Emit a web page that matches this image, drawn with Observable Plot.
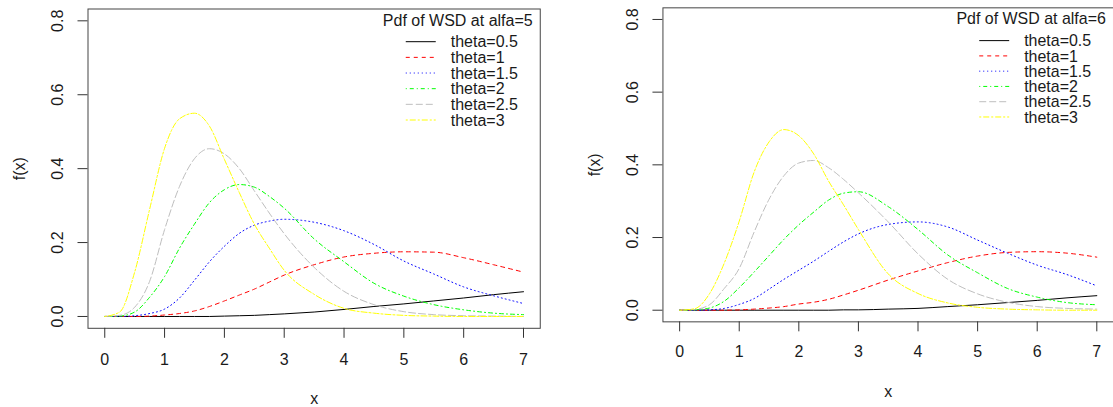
<!DOCTYPE html>
<html><head><meta charset="utf-8">
<script src="https://cdn.jsdelivr.net/npm/d3@7"></script>
<script src="https://cdn.jsdelivr.net/npm/@observablehq/plot@0.6"></script>
<style>
html,body{margin:0;padding:0;background:#fff;overflow:hidden;}
#wrap{position:relative;width:1113px;height:407px;overflow:hidden;background:#fff;}
.panel{position:absolute;top:0;}
</style></head><body><div id="wrap"></div>
<script>
// ---- data ----
const xs = [0,0.25,0.5,0.75,1,1.25,1.5,1.75,2,2.25,2.5,2.75,3,3.5,4,4.5,5,5.5,6,6.5,7];
const thetaLabels = ["theta=0.5","theta=1","theta=1.5","theta=2","theta=2.5","theta=3"];
const xTicks = [0,1,2,3,4,5,6,7];
const yTicks = [0,0.2,0.4,0.6,0.8];
const yTickLabels = ["0.0","0.2","0.4","0.6","0.8"];
const titles = ["Pdf of WSD at alfa=5","Pdf of WSD at alfa=6"];

// alfa = 5
const a5_t05 = [0,0,0,0,0,0,0,0,0.001,0.002,0.003,0.005,0.007,0.012,0.019,0.027,0.034,0.042,0.05,0.059,0.067];
const a5_t1  = [0,0,0,0.001,0.004,0.008,0.015,0.027,0.042,0.058,0.074,0.093,0.112,0.14,0.161,0.171,0.175,0.174,0.159,0.14,0.12];
const a5_t15 = [0,0,0.002,0.008,0.02,0.05,0.098,0.148,0.19,0.225,0.247,0.258,0.263,0.255,0.232,0.195,0.15,0.115,0.08,0.056,0.035];
const a5_t2  = [0,0.001,0.012,0.052,0.108,0.185,0.25,0.308,0.343,0.357,0.35,0.325,0.293,0.21,0.148,0.09,0.055,0.032,0.018,0.009,0.005];
const a5_t25 = [0,0.003,0.025,0.095,0.235,0.352,0.427,0.454,0.44,0.4,0.34,0.28,0.224,0.133,0.068,0.032,0.013,0.005,0.002,0.001,0];
const a5_t3  = [0,0.012,0.12,0.29,0.455,0.535,0.55,0.515,0.425,0.335,0.25,0.185,0.125,0.06,0.022,0.009,0.003,0.001,0,0,0];

// alfa = 6
const a6_t05 = [0,0,0,0,0,0,0,0,0,0,0,0.001,0.001,0.003,0.005,0.01,0.015,0.021,0.027,0.034,0.04];
const a6_t1  = [0,0,0,0,0.001,0.003,0.006,0.01,0.017,0.022,0.03,0.042,0.055,0.083,0.108,0.131,0.149,0.159,0.161,0.157,0.146];
const a6_t15 = [0,0,0.001,0.005,0.016,0.032,0.058,0.085,0.11,0.135,0.162,0.188,0.21,0.236,0.243,0.229,0.193,0.157,0.124,0.098,0.067];
const a6_t2  = [0,0.001,0.006,0.025,0.062,0.105,0.15,0.195,0.235,0.27,0.303,0.322,0.326,0.285,0.222,0.152,0.103,0.06,0.036,0.021,0.015];
const a6_t25 = [0,0.002,0.015,0.06,0.115,0.215,0.305,0.37,0.405,0.412,0.392,0.36,0.323,0.243,0.155,0.085,0.045,0.022,0.01,0.005,0.003];
const a6_t3  = [0,0.004,0.045,0.13,0.245,0.38,0.463,0.497,0.48,0.43,0.355,0.29,0.222,0.1,0.046,0.02,0.008,0.003,0.001,0,0];

// ---- styles ----
const colors = ["#000000","#ff0000","#0000ff","#00ff00","#bebebe","#ffff00"];
const dashes = [null,"4,4","1,3","1,3,4,3","7,3","2,2,6,2"];
const FONT = "'Liberation Sans', Arial, Helvetica, sans-serif";
const INK = "#1a1a1a";

function panel(cfg) {
  const {left, width, mL, mR, mT, mB, series, title, titleY, row0, rowStep, xLabDy, tickLabDy} = cfg;
  const lineMarks = series.map((vals, i) =>
    Plot.line(xs.map((x, j) => ({x, y: vals[j], theta: thetaLabels[i]})), {
      x: "x", y: "y", stroke: colors[i], strokeDasharray: dashes[i] || undefined,
      strokeWidth: 1, curve: "monotone-x"
    })
  );
  const plot = Plot.plot({
    width, height: 407,
    marginLeft: mL, marginRight: mR, marginTop: mT, marginBottom: mB,
    x: {domain: [-0.28, 7.28]},
    y: {domain: [-0.032, 0.832]},
    style: {fontFamily: FONT, fontSize: "16px", color: INK, background: "transparent", overflow: "visible"},
    marks: [
      ...lineMarks,
      Plot.frame({stroke: "#444", strokeWidth: 1}),
      Plot.axisX(xTicks, {tickSize: 10, tickFormat: () => "", label: null, stroke: "#333"}),
      Plot.axisY(yTicks, {tickSize: 10, tickFormat: () => "", label: null, stroke: "#333"}),
      Plot.text(xTicks, {x: d => d, text: d => String(d), frameAnchor: "bottom", dy: tickLabDy,
        lineAnchor: "middle", fontSize: 16, fill: INK}),
      Plot.text(yTicks, {y: d => d, text: (d, i) => yTickLabels[i], frameAnchor: "left", dx: -30,
        rotate: -90, textAnchor: "middle", lineAnchor: "middle", fontSize: 16, fill: INK}),
      Plot.text(["x"], {text: d => d, frameAnchor: "bottom", dy: xLabDy, lineAnchor: "middle", fontSize: 16, fill: INK}),
      Plot.text(["f(x)"], {text: d => d, frameAnchor: "left", dx: -68, rotate: -90,
        textAnchor: "middle", lineAnchor: "middle", fontSize: 16, fill: INK})
    ]
  });
  // legend (R-style, no box), positioned relative to the plot box's right edge
  const R = width - mR;
  const g = d3.select(plot).append("g")
    .attr("font-family", FONT).attr("font-size", 16).attr("fill", INK).attr("text-anchor", "start");
  g.append("text").attr("x", R - 82).attr("y", titleY).attr("text-anchor", "middle").text(title);
  thetaLabels.forEach((lab, i) => {
    const y = row0 + i * rowStep;
    const ln = g.append("line").attr("x1", R - 134).attr("x2", R - 104).attr("y1", y).attr("y2", y)
      .attr("stroke", colors[i]).attr("stroke-width", 1);
    if (dashes[i]) ln.attr("stroke-dasharray", dashes[i]);
    g.append("text").attr("x", R - 89).attr("y", y).attr("dy", "0.36em")
      .attr("text-anchor", "start").text(lab);
  });
  const div = document.createElement("div");
  div.className = "panel";
  div.style.left = left + "px";
  div.appendChild(plot);
  document.getElementById("wrap").appendChild(div);
}

panel({left: 0, width: 556, mL: 87.5, mR: 16.25, mT: 8.5, mB: 79.2,
  series: [a5_t05, a5_t1, a5_t15, a5_t2, a5_t25, a5_t3], title: titles[0],
  titleY: 26, row0: 41.7, rowStep: 15.66, xLabDy: 71, tickLabDy: 31.5});
panel({left: 575, width: 539, mL: 87.6, mR: 0, mT: 7.35, mB: 85.05,
  series: [a6_t05, a6_t1, a6_t15, a6_t2, a6_t25, a6_t3], title: titles[1],
  titleY: 24, row0: 40.7, rowStep: 15.3, xLabDy: 70, tickLabDy: 30});
</script></body></html>
